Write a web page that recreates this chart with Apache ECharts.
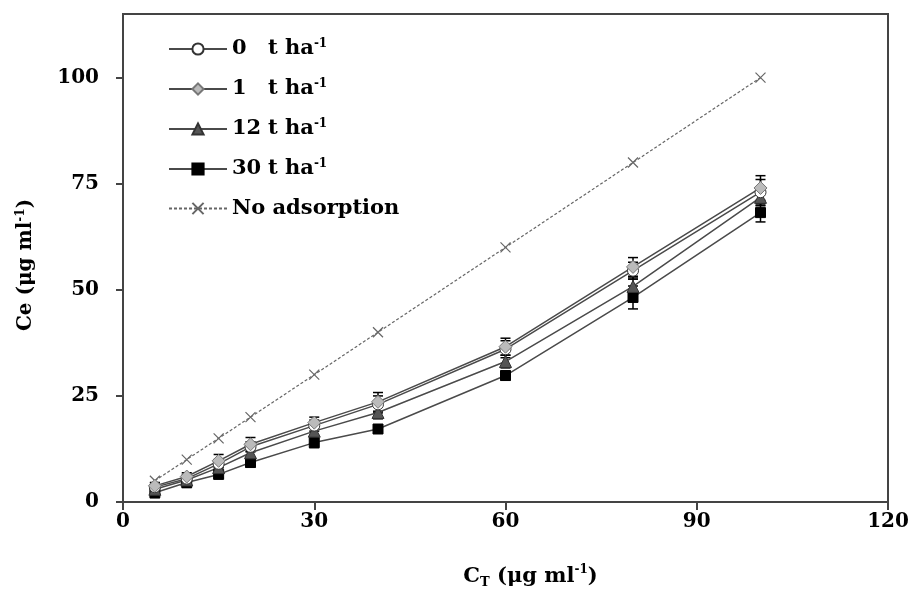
<!DOCTYPE html>
<html>
<head>
<meta charset="utf-8">
<script src="https://cdn.jsdelivr.net/npm/echarts@6/dist/echarts.min.js"></script>
<style>html,body{margin:0;padding:0;background:#fff}#c{width:914px;height:590px}</style>
</head>
<body>
<div id="c"></div>
<script>
const xValues = [5, 10, 15, 20, 30, 40, 60, 80, 100];
const ce0 = [3.5, 5.5, 9.0, 13.0, 18.0, 23.0, 36.0, 54.5, 73.0];
const ce1 = [3.8, 6.0, 9.7, 13.6, 18.7, 23.6, 36.6, 55.4, 74.0];
const ce12 = [3.0, 5.2, 8.1, 11.6, 16.7, 21.1, 33.1, 50.8, 71.8];
const ce30 = [2.2, 4.6, 6.5, 9.3, 14.0, 17.2, 29.8, 48.2, 68.2];
const noAds = [5, 10, 15, 20, 30, 40, 60, 80, 100];
const err0 = [1.0, 1.0, 1.0, 1.2, 1.3, 2.0, 2.0, 2.0, 3.0];
const err1 = [0.8, 0.9, 1.5, 1.6, 1.3, 2.2, 2.0, 2.2, 2.9];
const err12 = [1.0, 1.0, 1.0, 1.2, 1.0, 1.5, 1.5, 2.0, 2.0];
const err30 = [1.2, 1.2, 0.8, 1.0, 1.2, 0.8, 1.0, 2.7, 2.2];
const xTicks = [0, 30, 60, 90, 120];
const yTicks = [0, 25, 50, 75, 100];

const FONT = '"DejaVu Serif", "Liberation Serif", serif';
const pairs = ys => xValues.map((x, i) => [x, ys[i]]);
const errData = (ys, es) => xValues.map((x, i) => [x, ys[i] - es[i], ys[i] + es[i]]);

function errorSeries(ys, es) {
  return {
    type: 'custom',
    data: errData(ys, es),
    z: 3,
    silent: true,
    renderItem: function (params, api) {
      const lo = api.coord([api.value(0), api.value(1)]);
      const hi = api.coord([api.value(0), api.value(2)]);
      const w = 5;
      const st = { stroke: '#000', lineWidth: 1.5 };
      return {
        type: 'group',
        children: [
          { type: 'line', shape: { x1: lo[0], y1: lo[1], x2: hi[0], y2: hi[1] }, style: st },
          { type: 'line', shape: { x1: lo[0] - w, y1: lo[1], x2: lo[0] + w, y2: lo[1] }, style: st },
          { type: 'line', shape: { x1: hi[0] - w, y1: hi[1], x2: hi[0] + w, y2: hi[1] }, style: st }
        ]
      };
    }
  };
}

const lineStyle = { color: '#4a4a4a', width: 1.5 };
const legendLabels = {
  's0': '{num|0}{u|t ha}{sup|-1}',
  's1': '{num|1}{u|t ha}{sup|-1}',
  's12': '{num|12}{u|t ha}{sup|-1}',
  's30': '{num|30}{u|t ha}{sup|-1}',
  'No adsorption': '{u|No adsorption}'
};
const xSym = 'path://M0,0L10,10M10,0L0,10';

const chart = echarts.init(document.getElementById('c'));
chart.setOption({
  animation: false,
  backgroundColor: '#fff',
  grid: { left: 123, right: 26, top: 14, bottom: 88, outerBoundsMode: 'none', containLabel: false, show: true, borderColor: '#444', borderWidth: 2, backgroundColor: 'transparent' },
  legend: {
    orient: 'vertical',
    left: 163,
    top: 33,
    itemGap: 18.5,
    itemWidth: 58,
    itemHeight: 14,
    data: ['s0', 's1', 's12', 's30', 'No adsorption'],
    formatter: n => legendLabels[n],
    textStyle: {
      fontFamily: FONT,
      fontWeight: 'bold',
      fontSize: 21,
      color: '#000',
      rich: {
        num: { fontFamily: FONT, fontWeight: 'bold', fontSize: 21, width: 36, color: '#000' },
        u: { fontFamily: FONT, fontWeight: 'bold', fontSize: 21, color: '#000' },
        sup: { fontFamily: FONT, fontWeight: 'bold', fontSize: 12, color: '#000', verticalAlign: 'top', padding: [0, 0, 10, 0] }
      }
    }
  },
  xAxis: {
    type: 'value', min: 0, max: 120, interval: 30,
    name: 'C{sub|T} (μg ml{sup|-1})',
    nameLocation: 'middle', nameGap: 62,
    nameTextStyle: {
      fontFamily: FONT, fontWeight: 'bold', fontSize: 21, color: '#000',
      padding: [0, 0, 0, 50],
      rich: {
        sub: { fontFamily: FONT, fontWeight: 'bold', fontSize: 13, color: '#000', verticalAlign: 'bottom', padding: [12, 0, 0, 0] },
        sup: { fontFamily: FONT, fontWeight: 'bold', fontSize: 12, color: '#000', verticalAlign: 'top', padding: [0, 0, 10, 0] }
      }
    },
    axisLine: { lineStyle: { color: '#444', width: 2 } },
    axisTick: { show: true, inside: false, length: 8, lineStyle: { color: '#444', width: 2 }, customValues: xTicks },
    axisLabel: { fontFamily: FONT, fontWeight: 'bold', fontSize: 20, color: '#000', margin: 10, customValues: xTicks },
    splitLine: { show: false }
  },
  yAxis: {
    type: 'value', min: 0, max: 115, interval: 25,
    name: 'Ce (μg ml{sup|-1})',
    nameLocation: 'middle', nameGap: 86, nameRotate: 90,
    nameTextStyle: {
      fontFamily: FONT, fontWeight: 'bold', fontSize: 20, color: '#000',
      padding: [0, 14, 0, 0],
      rich: {
        sup: { fontFamily: FONT, fontWeight: 'bold', fontSize: 12, color: '#000', verticalAlign: 'top', padding: [0, 0, 10, 0] }
      }
    },
    axisLine: { lineStyle: { color: '#444', width: 2 } },
    axisTick: { show: true, inside: false, length: 7, lineStyle: { color: '#444', width: 2 }, customValues: yTicks },
    axisLabel: { fontFamily: FONT, fontWeight: 'bold', fontSize: 20, color: '#000', margin: 24, customValues: yTicks },
    splitLine: { show: false }
  },
  series: [
    {
      name: 'No adsorption', type: 'line', data: pairs(noAds),
      symbol: xSym, symbolSize: 10,
      lineStyle: { color: '#666', width: 1.2, type: [3, 2] },
      itemStyle: { color: '#666', borderColor: '#666', borderWidth: 1.2 },
      z: 2
    },
    errorSeries(ce30, err30),
    errorSeries(ce12, err12),
    errorSeries(ce0, err0),
    errorSeries(ce1, err1),
    {
      name: 's30', type: 'line', data: pairs(ce30),
      symbol: 'rect', symbolSize: 10,
      lineStyle: lineStyle,
      itemStyle: { color: '#000', borderColor: '#000', borderWidth: 1 },
      z: 4
    },
    {
      name: 's12', type: 'line', data: pairs(ce12),
      symbol: 'triangle', symbolSize: 12,
      lineStyle: lineStyle,
      itemStyle: { color: '#555', borderColor: '#333', borderWidth: 1 },
      z: 4
    },
    {
      name: 's0', type: 'line', data: pairs(ce0),
      symbol: 'circle', symbolSize: 11,
      lineStyle: lineStyle,
      itemStyle: { color: '#fff', borderColor: '#333', borderWidth: 1 },
      z: 4
    },
    {
      name: 's1', type: 'line', data: pairs(ce1),
      symbol: 'diamond', symbolSize: 13,
      lineStyle: lineStyle,
      itemStyle: { color: '#bbb', borderColor: '#777', borderWidth: 1 },
      z: 4
    }
  ]
});
</script>
</body>
</html>
